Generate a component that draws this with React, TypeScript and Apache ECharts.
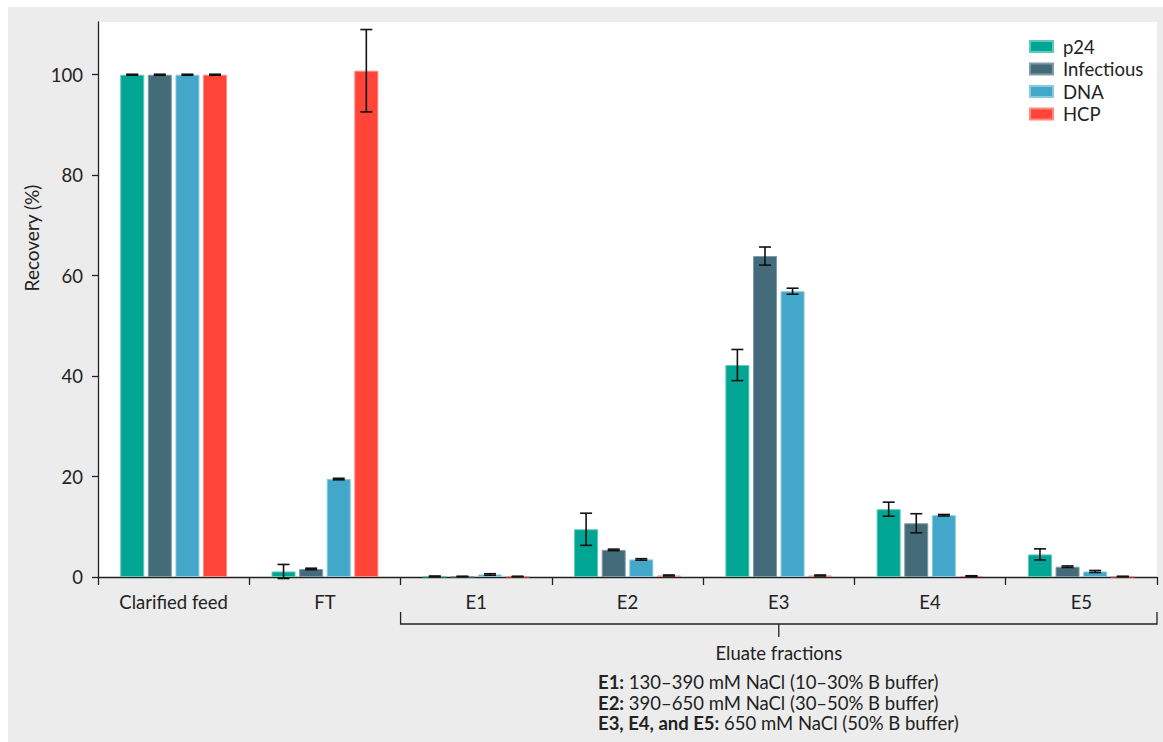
import { useEffect, useRef } from 'react';
import * as echarts from 'echarts';

const categories = ['Clarified feed', 'FT', 'E1', 'E2', 'E3', 'E4', 'E5'];
const seriesNames = ['p24', 'Infectious', 'DNA', 'HCP'];
const seriesColors = ['#00A693', '#436B7A', '#42A7C8', '#FF4438'];
const borderColors = ['#5cc9ba', '#7d9ca8', '#86cbe2', '#ff8a80'];

const p24 = [100, 1.1, 0.1, 9.5, 42.2, 13.5, 4.5];
const p24Err = [0.1, 1.4, 0.1, 3.2, 3.1, 1.4, 1.1];
const infectious = [100, 1.6, 0.1, 5.4, 63.9, 10.7, 2.05];
const infectiousErr = [0.1, 0.15, 0.05, 0.15, 1.8, 1.9, 0.15];
const dna = [100, 19.5, 0.5, 3.5, 56.9, 12.3, 1.1];
const dnaErr = [0.1, 0.15, 0.15, 0.15, 0.6, 0.15, 0.2];
const hcp = [100, 100.8, 0.1, 0.3, 0.3, 0.2, 0.1];
const hcpErr = [0.1, 8.2, 0.05, 0.1, 0.1, 0.05, 0.05];

const yTicks = [0, 20, 40, 60, 80, 100];

const noteLines = [
  { bold: 'E1:', rest: ' 130–390 mM NaCl (10–30% B buffer)' },
  { bold: 'E2:', rest: ' 390–650 mM NaCl (30–50% B buffer)' },
  { bold: 'E3, E4, and E5:', rest: ' 650 mM NaCl (50% B buffer)' },
];

const FONT = 'Lato, "Noto Sans", sans-serif';
const INK = '#222222';
const FS = 18.5;
const BAR_W = 24;
const BAR_GAP = 0.15;

export default function App() {
  const ref = useRef<HTMLDivElement>(null);

  useEffect(() => {
    if (!ref.current) return;
    const chart = echarts.init(ref.current, undefined, { renderer: 'svg' });

    const values = [p24, infectious, dna, hcp];
    const errors = [p24Err, infectiousErr, dnaErr, hcpErr];
    const errData: number[][] = [];
    values.forEach((vals, s) => {
      vals.forEach((v, c) => {
        const e = errors[s][c];
        errData.push([c, s, v - e, v + e]);
      });
    });

    const barSeries = values.map((vals, s) => ({
      name: seriesNames[s],
      type: 'bar',
      data: vals,
      barWidth: BAR_W,
      barGap: `${BAR_GAP * 100}%`,
      itemStyle: { color: seriesColors[s], borderColor: borderColors[s], borderWidth: 1 },
      emphasis: { disabled: true },
    }));

    chart.setOption({
      animation: false,
      backgroundColor: '#ececec',
      textStyle: { fontFamily: FONT },
      grid: {
        left: 90,
        right: 6,
        top: 15,
        bottom: 165,
        show: true,
        backgroundColor: '#ffffff',
        borderWidth: 0,
      },
      legend: {
        orient: 'vertical',
        left: 1016,
        top: 25,
        data: seriesNames,
        icon: 'rect',
        itemWidth: 23,
        itemHeight: 11,
        itemGap: 3.5,
        textStyle: { fontFamily: FONT, fontSize: FS, color: INK, padding: [0, 0, 0, 5] },
        selectedMode: false,
      },
      xAxis: {
        type: 'category',
        data: categories,
        axisLine: { lineStyle: { color: INK, width: 1.3 } },
        axisTick: { show: true, length: 8, lineStyle: { color: INK, width: 1.3 } },
        axisLabel: { fontFamily: FONT, fontSize: FS, color: INK, margin: 15 },
        splitLine: { show: false },
      },
      yAxis: {
        type: 'value',
        min: 0,
        max: 110.5,
        interval: 20,
        axisLine: { show: true, lineStyle: { color: INK, width: 1.3 } },
        axisTick: { show: true, length: 6, lineStyle: { color: INK, width: 1.3 }, customValues: yTicks },
        axisLabel: { fontFamily: FONT, fontSize: FS, color: INK, margin: 15, customValues: yTicks },
        splitLine: { show: false },
      },
      series: [
        ...barSeries,
        {
          name: 'error',
          type: 'custom',
          z: 5,
          data: errData,
          encode: { x: 0, y: [2, 3] },
          renderItem: (_params: any, api: any) => {
            const cat = api.value(0);
            const s = api.value(1);
            const lo = api.coord([cat, api.value(2)]);
            const hi = api.coord([cat, api.value(3)]);
            const step = BAR_W * (1 + BAR_GAP);
            const x = lo[0] + (s - 1.5) * step;
            const cap = 6;
            const st = { stroke: '#111111', lineWidth: 1.6 };
            return {
              type: 'group',
              children: [
                { type: 'line', shape: { x1: x, y1: lo[1], x2: x, y2: hi[1] }, style: st },
                { type: 'line', shape: { x1: x - cap, y1: lo[1], x2: x + cap, y2: lo[1] }, style: st },
                { type: 'line', shape: { x1: x - cap, y1: hi[1], x2: x + cap, y2: hi[1] }, style: st },
              ],
            };
          },
        },
      ],
    });

    // bracket spanning the eluate fractions, placed from the category axis
    const c1 = chart.convertToPixel({ xAxisIndex: 0 }, 'E1') as number;
    const c2 = chart.convertToPixel({ xAxisIndex: 0 }, 'E2') as number;
    const c5 = chart.convertToPixel({ xAxisIndex: 0 }, 'E5') as number;
    const band = c2 - c1;
    const bx0 = c1 - band / 2;
    const bx1 = c5 + band / 2;
    const mid = (bx0 + bx1) / 2;
    const lineStyle = { stroke: INK, lineWidth: 1.3, fill: 'none' };

    chart.setOption({
      graphic: [
        {
          type: 'polyline',
          silent: true,
          shape: { points: [[bx0, 605], [bx0, 617], [bx1, 617], [bx1, 605]] },
          style: lineStyle,
        },
        {
          type: 'line',
          silent: true,
          shape: { x1: mid, y1: 617, x2: mid, y2: 630 },
          style: lineStyle,
        },
        {
          type: 'text',
          silent: true,
          x: mid,
          y: 646,
          style: {
            text: 'Eluate fractions',
            fontFamily: FONT,
            fontSize: FS,
            fill: INK,
            align: 'center',
            verticalAlign: 'middle',
          },
        },
        ...noteLines.map((ln, i) => ({
          type: 'text',
          silent: true,
          x: 590,
          y: 675 + i * 20.7,
          style: {
            text: `{b|${ln.bold}}${ln.rest}`,
            fontFamily: FONT,
            fontSize: FS,
            fill: INK,
            align: 'left',
            verticalAlign: 'middle',
            rich: {
              b: { fontFamily: FONT, fontSize: FS, fontWeight: 'bold', fill: INK },
            },
          },
        })),
        {
          type: 'text',
          silent: true,
          x: 23,
          y: 231,
          rotation: Math.PI / 2,
          style: {
            text: 'Recovery (%)',
            fontFamily: FONT,
            fontSize: 19,
            fill: INK,
            align: 'center',
            verticalAlign: 'middle',
          },
        },
      ],
    });

    return () => chart.dispose();
  }, []);

  return (
    <div
      ref={ref}
      style={{ position: 'fixed', left: 8, top: 7, width: 1155, height: 735 }}
    />
  );
}
